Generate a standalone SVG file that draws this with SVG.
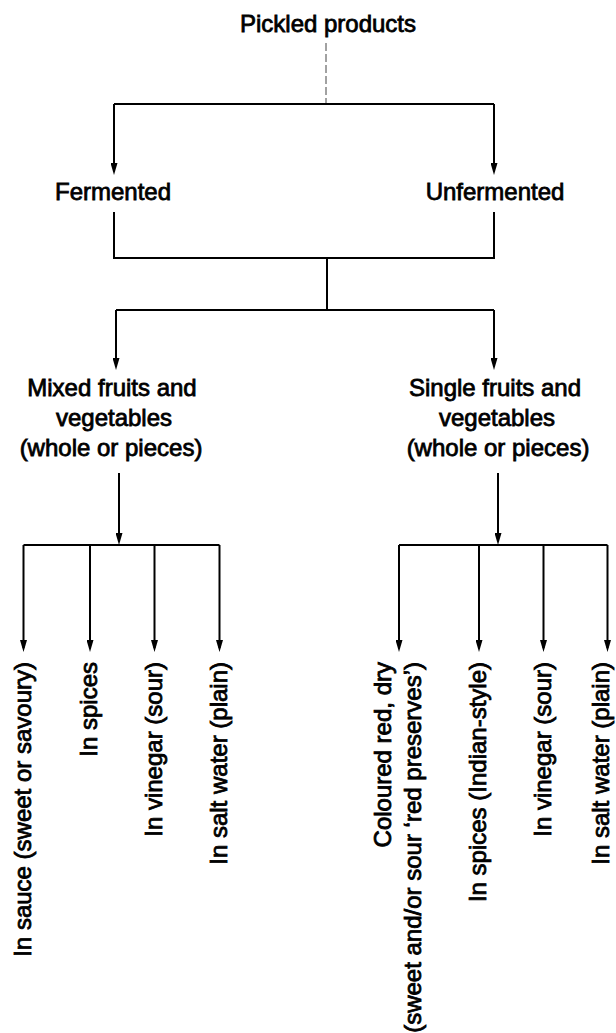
<svg xmlns="http://www.w3.org/2000/svg" width="616" height="1033" viewBox="0 0 616 1033">
<style>
text{font-family:"Liberation Sans",Arial,Helvetica,sans-serif;font-size:24px;fill:#000;stroke:#000;stroke-width:0.8}
.c{text-anchor:middle}
.v{text-anchor:end}
.ln{fill:none;stroke:#000;stroke-width:2}
.ar{fill:none;stroke:#000;stroke-width:2;marker-end:url(#ah)}
.dash{fill:none;stroke:#444;stroke-width:1;stroke-dasharray:8 3}
</style>
<defs>
<marker id="ah" viewBox="0 0 12 7" refX="8" refY="3.5" markerWidth="12" markerHeight="7" markerUnits="userSpaceOnUse" orient="auto">
<path d="M0,0 L12,3.5 L0,7 z" fill="#000"/>
</marker>
</defs>
<rect width="616" height="1033" fill="#fff"/>
<g id="connectors">
<path class="dash" d="M326,43 V104"/>
<path class="ln" d="M114,104 H494"/>
<path class="ar" d="M114,104 V171"/>
<path class="ar" d="M494,104 V171"/>
<path class="ln" d="M114,212 V258 H494 V212"/>
<path class="ln" d="M327,258 V310"/>
<path class="ln" d="M116,310 H494"/>
<path class="ar" d="M116,310 V366"/>
<path class="ar" d="M494,310 V366"/>
<path class="ar" d="M119,473 V541"/>
<path class="ar" d="M498,473 V541"/>
<path class="ln" d="M23.5,545 H219.5"/>
<path class="ar" d="M23.5,545 V648"/>
<path class="ar" d="M90,545 V648"/>
<path class="ar" d="M154.5,545 V648"/>
<path class="ar" d="M219.5,545 V648"/>
<path class="ln" d="M399,545 H607.5"/>
<path class="ar" d="M399,545 V648"/>
<path class="ar" d="M479,545 V648"/>
<path class="ar" d="M543.5,545 V648"/>
<path class="ar" d="M607.5,545 V648"/>
</g>
<g id="pickled-products"><text class="c" x="328" y="32">Pickled products</text></g>
<g id="fermented"><text class="c" x="113" y="200">Fermented</text></g>
<g id="unfermented"><text class="c" x="495" y="200">Unfermented</text></g>
<g id="mixed">
<text class="c" x="112" y="396">Mixed fruits and</text>
<text class="c" x="114" y="426">vegetables</text>
<text class="c" x="111" y="456">(whole or pieces)</text>
</g>
<g id="single">
<text class="c" x="495" y="396">Single fruits and</text>
<text class="c" x="497" y="426">vegetables</text>
<text class="c" x="498" y="456">(whole or pieces)</text>
</g>
<g id="mixed-sauce"><text class="v" transform="translate(30.5,662) rotate(-90)">In sauce (sweet or savoury)</text></g>
<g id="mixed-spices"><text class="v" transform="translate(97,662) rotate(-90)">In spices</text></g>
<g id="mixed-vinegar"><text class="v" transform="translate(161.5,662) rotate(-90)">In vinegar (sour)</text></g>
<g id="mixed-salt"><text class="v" transform="translate(226.5,662) rotate(-90)">In salt water (plain)</text></g>
<g id="single-coloured">
<text class="v" transform="translate(391,662) rotate(-90)">Coloured red, dry</text>
<text class="v" transform="translate(421,662) rotate(-90)">(sweet and/or sour ‘red preserves’)</text>
</g>
<g id="single-spices"><text class="v" transform="translate(486,662) rotate(-90)">In spices (Indian-style)</text></g>
<g id="single-vinegar"><text class="v" transform="translate(550.5,662) rotate(-90)">In vinegar (sour)</text></g>
<g id="single-salt"><text class="v" transform="translate(609,662) rotate(-90)">In salt water (plain)</text></g>
</svg>
